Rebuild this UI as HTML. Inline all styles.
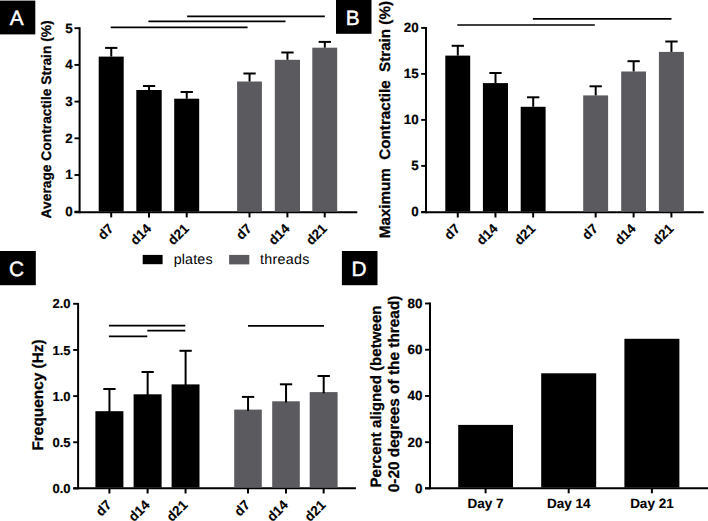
<!DOCTYPE html>
<html><head><meta charset="utf-8"><style>
html,body{margin:0;padding:0;background:#fff;}
svg{display:block;font-family:"Liberation Sans",sans-serif;text-rendering:geometricPrecision;}
</style></head><body>
<svg width="708" height="521" viewBox="0 0 708 521">
<rect x="0" y="0" width="708" height="521" fill="#fff"/>
<rect x="0.00" y="0.60" width="35.30" height="33.80" fill="#000"/>
<text x="16.60" y="25.20" font-size="20.8" font-weight="normal" text-anchor="middle" fill="#fff" stroke="#fff" stroke-width="0.45">A</text>
<line x1="79.60" y1="27.30" x2="79.60" y2="213.20" stroke="#000" stroke-width="2"/>
<line x1="74.50" y1="28.20" x2="79.60" y2="28.20" stroke="#000" stroke-width="1.9"/>
<text x="72.60" y="32.60" font-size="13.4" font-weight="bold" text-anchor="end" fill="#000" stroke="#000" stroke-width="0.2">5</text>
<line x1="74.50" y1="64.90" x2="79.60" y2="64.90" stroke="#000" stroke-width="1.9"/>
<text x="72.60" y="69.30" font-size="13.4" font-weight="bold" text-anchor="end" fill="#000" stroke="#000" stroke-width="0.2">4</text>
<line x1="74.50" y1="101.60" x2="79.60" y2="101.60" stroke="#000" stroke-width="1.9"/>
<text x="72.60" y="106.00" font-size="13.4" font-weight="bold" text-anchor="end" fill="#000" stroke="#000" stroke-width="0.2">3</text>
<line x1="74.50" y1="138.30" x2="79.60" y2="138.30" stroke="#000" stroke-width="1.9"/>
<text x="72.60" y="142.70" font-size="13.4" font-weight="bold" text-anchor="end" fill="#000" stroke="#000" stroke-width="0.2">2</text>
<line x1="74.50" y1="175.00" x2="79.60" y2="175.00" stroke="#000" stroke-width="1.9"/>
<text x="72.60" y="179.40" font-size="13.4" font-weight="bold" text-anchor="end" fill="#000" stroke="#000" stroke-width="0.2">1</text>
<line x1="74.50" y1="211.70" x2="79.60" y2="211.70" stroke="#000" stroke-width="1.9"/>
<text x="72.60" y="216.10" font-size="13.4" font-weight="bold" text-anchor="end" fill="#000" stroke="#000" stroke-width="0.2">0</text>
<line x1="74.50" y1="212.20" x2="357.30" y2="212.20" stroke="#000" stroke-width="2.0"/>
<rect x="98.70" y="56.60" width="25.00" height="154.90" fill="#000"/>
<line x1="111.25" y1="47.90" x2="111.25" y2="56.60" stroke="#000" stroke-width="2.0"/>
<line x1="105.10" y1="47.90" x2="117.40" y2="47.90" stroke="#000" stroke-width="2.0"/>
<rect x="136.30" y="90.00" width="25.40" height="121.50" fill="#000"/>
<line x1="149.05" y1="86.00" x2="149.05" y2="90.00" stroke="#000" stroke-width="2.0"/>
<line x1="142.90" y1="86.00" x2="155.20" y2="86.00" stroke="#000" stroke-width="2.0"/>
<rect x="174.20" y="98.70" width="25.00" height="112.80" fill="#000"/>
<line x1="186.75" y1="92.00" x2="186.75" y2="98.70" stroke="#000" stroke-width="2.0"/>
<line x1="180.60" y1="92.00" x2="192.90" y2="92.00" stroke="#000" stroke-width="2.0"/>
<rect x="237.10" y="81.50" width="24.80" height="130.00" fill="#5b5a5f"/>
<line x1="249.55" y1="73.50" x2="249.55" y2="81.50" stroke="#000" stroke-width="2.0"/>
<line x1="243.40" y1="73.50" x2="255.70" y2="73.50" stroke="#000" stroke-width="2.0"/>
<rect x="274.80" y="59.80" width="25.20" height="151.70" fill="#5b5a5f"/>
<line x1="287.45" y1="52.50" x2="287.45" y2="59.80" stroke="#000" stroke-width="2.0"/>
<line x1="281.30" y1="52.50" x2="293.60" y2="52.50" stroke="#000" stroke-width="2.0"/>
<rect x="312.30" y="47.70" width="24.90" height="163.80" fill="#5b5a5f"/>
<line x1="324.80" y1="41.90" x2="324.80" y2="47.70" stroke="#000" stroke-width="2.0"/>
<line x1="318.65" y1="41.90" x2="330.95" y2="41.90" stroke="#000" stroke-width="2.0"/>
<line x1="111.20" y1="212.20" x2="111.20" y2="217.40" stroke="#000" stroke-width="2"/>
<line x1="149.00" y1="212.20" x2="149.00" y2="217.40" stroke="#000" stroke-width="2"/>
<line x1="186.70" y1="212.20" x2="186.70" y2="217.40" stroke="#000" stroke-width="2"/>
<line x1="249.50" y1="212.20" x2="249.50" y2="217.40" stroke="#000" stroke-width="2"/>
<line x1="287.40" y1="212.20" x2="287.40" y2="217.40" stroke="#000" stroke-width="2"/>
<line x1="324.75" y1="212.20" x2="324.75" y2="217.40" stroke="#000" stroke-width="2"/>
<text x="114.30" y="229.40" font-size="13.5" font-weight="bold" text-anchor="end" fill="#000" stroke="#000" stroke-width="0.15" transform="rotate(-45 114.30 229.40)">d7</text>
<text x="152.10" y="229.40" font-size="13.5" font-weight="bold" text-anchor="end" fill="#000" stroke="#000" stroke-width="0.15" transform="rotate(-45 152.10 229.40)">d14</text>
<text x="189.80" y="229.40" font-size="13.5" font-weight="bold" text-anchor="end" fill="#000" stroke="#000" stroke-width="0.15" transform="rotate(-45 189.80 229.40)">d21</text>
<text x="252.60" y="229.40" font-size="13.5" font-weight="bold" text-anchor="end" fill="#000" stroke="#000" stroke-width="0.15" transform="rotate(-45 252.60 229.40)">d7</text>
<text x="290.50" y="229.40" font-size="13.5" font-weight="bold" text-anchor="end" fill="#000" stroke="#000" stroke-width="0.15" transform="rotate(-45 290.50 229.40)">d14</text>
<text x="327.85" y="229.40" font-size="13.5" font-weight="bold" text-anchor="end" fill="#000" stroke="#000" stroke-width="0.15" transform="rotate(-45 327.85 229.40)">d21</text>
<line x1="110.70" y1="27.30" x2="247.60" y2="27.30" stroke="#000" stroke-width="1.7"/>
<line x1="148.40" y1="21.40" x2="285.50" y2="21.40" stroke="#000" stroke-width="1.7"/>
<line x1="187.10" y1="16.30" x2="324.80" y2="16.30" stroke="#000" stroke-width="1.7"/>
<text x="51.30" y="119.40" font-size="13.8" font-weight="bold" text-anchor="middle" fill="#000" stroke="#000" stroke-width="0.25" transform="rotate(-90 51.30 119.40)">Average Contractile Strain (%)</text>
<rect x="336.00" y="0.00" width="35.50" height="33.80" fill="#000"/>
<text x="352.80" y="24.70" font-size="20.8" font-weight="normal" text-anchor="middle" fill="#fff" stroke="#fff" stroke-width="0.45">B</text>
<line x1="426.00" y1="27.00" x2="426.00" y2="213.20" stroke="#000" stroke-width="2"/>
<line x1="421.20" y1="27.90" x2="426.00" y2="27.90" stroke="#000" stroke-width="1.9"/>
<text x="418.60" y="32.30" font-size="13.4" font-weight="bold" text-anchor="end" fill="#000" stroke="#000" stroke-width="0.2">20</text>
<line x1="421.20" y1="73.90" x2="426.00" y2="73.90" stroke="#000" stroke-width="1.9"/>
<text x="418.60" y="78.30" font-size="13.4" font-weight="bold" text-anchor="end" fill="#000" stroke="#000" stroke-width="0.2">15</text>
<line x1="421.20" y1="119.90" x2="426.00" y2="119.90" stroke="#000" stroke-width="1.9"/>
<text x="418.60" y="124.30" font-size="13.4" font-weight="bold" text-anchor="end" fill="#000" stroke="#000" stroke-width="0.2">10</text>
<line x1="421.20" y1="165.90" x2="426.00" y2="165.90" stroke="#000" stroke-width="1.9"/>
<text x="418.60" y="170.30" font-size="13.4" font-weight="bold" text-anchor="end" fill="#000" stroke="#000" stroke-width="0.2">5</text>
<line x1="421.20" y1="211.90" x2="426.00" y2="211.90" stroke="#000" stroke-width="1.9"/>
<text x="418.60" y="216.30" font-size="13.4" font-weight="bold" text-anchor="end" fill="#000" stroke="#000" stroke-width="0.2">0</text>
<line x1="421.20" y1="212.30" x2="703.70" y2="212.30" stroke="#000" stroke-width="2.0"/>
<rect x="445.30" y="55.60" width="24.90" height="155.90" fill="#000"/>
<line x1="457.80" y1="45.80" x2="457.80" y2="55.60" stroke="#000" stroke-width="2.0"/>
<line x1="451.65" y1="45.80" x2="463.95" y2="45.80" stroke="#000" stroke-width="2.0"/>
<rect x="482.90" y="83.10" width="25.10" height="128.40" fill="#000"/>
<line x1="495.50" y1="73.00" x2="495.50" y2="83.10" stroke="#000" stroke-width="2.0"/>
<line x1="489.35" y1="73.00" x2="501.65" y2="73.00" stroke="#000" stroke-width="2.0"/>
<rect x="520.70" y="106.80" width="24.90" height="104.70" fill="#000"/>
<line x1="533.20" y1="97.30" x2="533.20" y2="106.80" stroke="#000" stroke-width="2.0"/>
<line x1="527.05" y1="97.30" x2="539.35" y2="97.30" stroke="#000" stroke-width="2.0"/>
<rect x="583.20" y="95.40" width="24.90" height="116.10" fill="#5b5a5f"/>
<line x1="595.70" y1="86.30" x2="595.70" y2="95.40" stroke="#000" stroke-width="2.0"/>
<line x1="589.55" y1="86.30" x2="601.85" y2="86.30" stroke="#000" stroke-width="2.0"/>
<rect x="621.20" y="71.50" width="24.80" height="140.00" fill="#5b5a5f"/>
<line x1="633.65" y1="61.20" x2="633.65" y2="71.50" stroke="#000" stroke-width="2.0"/>
<line x1="627.50" y1="61.20" x2="639.80" y2="61.20" stroke="#000" stroke-width="2.0"/>
<rect x="658.90" y="51.90" width="25.00" height="159.60" fill="#5b5a5f"/>
<line x1="671.45" y1="41.50" x2="671.45" y2="51.90" stroke="#000" stroke-width="2.0"/>
<line x1="665.30" y1="41.50" x2="677.60" y2="41.50" stroke="#000" stroke-width="2.0"/>
<line x1="457.75" y1="212.30" x2="457.75" y2="217.50" stroke="#000" stroke-width="2"/>
<text x="460.85" y="229.40" font-size="13.5" font-weight="bold" text-anchor="end" fill="#000" stroke="#000" stroke-width="0.15" transform="rotate(-45 460.85 229.40)">d7</text>
<line x1="495.45" y1="212.30" x2="495.45" y2="217.50" stroke="#000" stroke-width="2"/>
<text x="498.55" y="229.40" font-size="13.5" font-weight="bold" text-anchor="end" fill="#000" stroke="#000" stroke-width="0.15" transform="rotate(-45 498.55 229.40)">d14</text>
<line x1="533.15" y1="212.30" x2="533.15" y2="217.50" stroke="#000" stroke-width="2"/>
<text x="536.25" y="229.40" font-size="13.5" font-weight="bold" text-anchor="end" fill="#000" stroke="#000" stroke-width="0.15" transform="rotate(-45 536.25 229.40)">d21</text>
<line x1="595.65" y1="212.30" x2="595.65" y2="217.50" stroke="#000" stroke-width="2"/>
<text x="598.75" y="229.40" font-size="13.5" font-weight="bold" text-anchor="end" fill="#000" stroke="#000" stroke-width="0.15" transform="rotate(-45 598.75 229.40)">d7</text>
<line x1="633.60" y1="212.30" x2="633.60" y2="217.50" stroke="#000" stroke-width="2"/>
<text x="636.70" y="229.40" font-size="13.5" font-weight="bold" text-anchor="end" fill="#000" stroke="#000" stroke-width="0.15" transform="rotate(-45 636.70 229.40)">d14</text>
<line x1="671.40" y1="212.30" x2="671.40" y2="217.50" stroke="#000" stroke-width="2"/>
<text x="674.50" y="229.40" font-size="13.5" font-weight="bold" text-anchor="end" fill="#000" stroke="#000" stroke-width="0.15" transform="rotate(-45 674.50 229.40)">d21</text>
<line x1="457.30" y1="25.00" x2="594.80" y2="25.00" stroke="#000" stroke-width="1.7"/>
<line x1="532.90" y1="18.90" x2="671.50" y2="18.90" stroke="#000" stroke-width="1.7"/>
<text x="390.50" y="119.60" font-size="15.2" font-weight="bold" text-anchor="middle" fill="#000" stroke="#000" stroke-width="0.25" transform="rotate(-90 390.50 119.60)">Maximum&#160; Contractile&#160; Strain (%)</text>
<rect x="142.70" y="254.90" width="19.90" height="9.30" fill="#000"/>
<text x="173.70" y="264.00" font-size="14.3" font-weight="normal" text-anchor="start" fill="#000" letter-spacing="0.15">plates</text>
<rect x="229.10" y="254.90" width="20.20" height="9.50" fill="#5b5a5f"/>
<text x="260.10" y="264.00" font-size="14.3" font-weight="normal" text-anchor="start" fill="#000" letter-spacing="0.28">threads</text>
<rect x="0.00" y="251.00" width="35.80" height="34.20" fill="#000"/>
<text x="16.60" y="276.00" font-size="20.8" font-weight="normal" text-anchor="middle" fill="#fff" stroke="#fff" stroke-width="0.45">C</text>
<line x1="78.10" y1="302.90" x2="78.10" y2="489.30" stroke="#000" stroke-width="2"/>
<line x1="73.20" y1="303.80" x2="78.10" y2="303.80" stroke="#000" stroke-width="1.9"/>
<text x="70.60" y="308.40" font-size="13.0" font-weight="bold" text-anchor="end" fill="#000" stroke="#000" stroke-width="0.2">2.0</text>
<line x1="73.20" y1="349.95" x2="78.10" y2="349.95" stroke="#000" stroke-width="1.9"/>
<text x="70.60" y="354.55" font-size="13.0" font-weight="bold" text-anchor="end" fill="#000" stroke="#000" stroke-width="0.2">1.5</text>
<line x1="73.20" y1="396.10" x2="78.10" y2="396.10" stroke="#000" stroke-width="1.9"/>
<text x="70.60" y="400.70" font-size="13.0" font-weight="bold" text-anchor="end" fill="#000" stroke="#000" stroke-width="0.2">1.0</text>
<line x1="73.20" y1="442.25" x2="78.10" y2="442.25" stroke="#000" stroke-width="1.9"/>
<text x="70.60" y="446.85" font-size="13.0" font-weight="bold" text-anchor="end" fill="#000" stroke="#000" stroke-width="0.2">0.5</text>
<line x1="73.20" y1="488.40" x2="78.10" y2="488.40" stroke="#000" stroke-width="1.9"/>
<text x="70.60" y="493.00" font-size="13.0" font-weight="bold" text-anchor="end" fill="#000" stroke="#000" stroke-width="0.2">0.0</text>
<line x1="73.20" y1="488.30" x2="355.90" y2="488.30" stroke="#000" stroke-width="2.0"/>
<rect x="95.40" y="411.20" width="28.00" height="76.30" fill="#000"/>
<line x1="109.45" y1="389.00" x2="109.45" y2="412.40" stroke="#000" stroke-width="2.0"/>
<line x1="103.30" y1="389.00" x2="115.60" y2="389.00" stroke="#000" stroke-width="2.0"/>
<rect x="133.60" y="394.30" width="28.00" height="93.20" fill="#000"/>
<line x1="147.65" y1="372.00" x2="147.65" y2="395.50" stroke="#000" stroke-width="2.0"/>
<line x1="141.50" y1="372.00" x2="153.80" y2="372.00" stroke="#000" stroke-width="2.0"/>
<rect x="171.60" y="384.40" width="27.90" height="103.10" fill="#000"/>
<line x1="185.60" y1="350.80" x2="185.60" y2="385.60" stroke="#000" stroke-width="2.0"/>
<line x1="179.45" y1="350.80" x2="191.75" y2="350.80" stroke="#000" stroke-width="2.0"/>
<rect x="234.20" y="409.60" width="27.60" height="77.90" fill="#5b5a5f"/>
<line x1="248.05" y1="396.90" x2="248.05" y2="410.80" stroke="#000" stroke-width="2.0"/>
<line x1="241.90" y1="396.90" x2="254.20" y2="396.90" stroke="#000" stroke-width="2.0"/>
<rect x="272.20" y="401.30" width="27.60" height="86.20" fill="#5b5a5f"/>
<line x1="286.05" y1="384.30" x2="286.05" y2="402.50" stroke="#000" stroke-width="2.0"/>
<line x1="279.90" y1="384.30" x2="292.20" y2="384.30" stroke="#000" stroke-width="2.0"/>
<rect x="309.70" y="392.10" width="27.90" height="95.40" fill="#5b5a5f"/>
<line x1="323.70" y1="376.00" x2="323.70" y2="393.30" stroke="#000" stroke-width="2.0"/>
<line x1="317.55" y1="376.00" x2="329.85" y2="376.00" stroke="#000" stroke-width="2.0"/>
<line x1="109.40" y1="488.30" x2="109.40" y2="493.50" stroke="#000" stroke-width="2"/>
<text x="112.30" y="505.80" font-size="13.5" font-weight="bold" text-anchor="end" fill="#000" stroke="#000" stroke-width="0.15" transform="rotate(-45 112.30 505.80)">d7</text>
<line x1="147.60" y1="488.30" x2="147.60" y2="493.50" stroke="#000" stroke-width="2"/>
<text x="150.50" y="505.80" font-size="13.5" font-weight="bold" text-anchor="end" fill="#000" stroke="#000" stroke-width="0.15" transform="rotate(-45 150.50 505.80)">d14</text>
<line x1="185.55" y1="488.30" x2="185.55" y2="493.50" stroke="#000" stroke-width="2"/>
<text x="188.45" y="505.80" font-size="13.5" font-weight="bold" text-anchor="end" fill="#000" stroke="#000" stroke-width="0.15" transform="rotate(-45 188.45 505.80)">d21</text>
<line x1="248.00" y1="488.30" x2="248.00" y2="493.50" stroke="#000" stroke-width="2"/>
<text x="250.90" y="505.80" font-size="13.5" font-weight="bold" text-anchor="end" fill="#000" stroke="#000" stroke-width="0.15" transform="rotate(-45 250.90 505.80)">d7</text>
<line x1="286.00" y1="488.30" x2="286.00" y2="493.50" stroke="#000" stroke-width="2"/>
<text x="288.90" y="505.80" font-size="13.5" font-weight="bold" text-anchor="end" fill="#000" stroke="#000" stroke-width="0.15" transform="rotate(-45 288.90 505.80)">d14</text>
<line x1="323.65" y1="488.30" x2="323.65" y2="493.50" stroke="#000" stroke-width="2"/>
<text x="326.55" y="505.80" font-size="13.5" font-weight="bold" text-anchor="end" fill="#000" stroke="#000" stroke-width="0.15" transform="rotate(-45 326.55 505.80)">d21</text>
<line x1="108.90" y1="325.60" x2="185.30" y2="325.60" stroke="#000" stroke-width="1.7"/>
<line x1="147.30" y1="330.70" x2="185.30" y2="330.70" stroke="#000" stroke-width="1.7"/>
<line x1="108.90" y1="336.30" x2="147.30" y2="336.30" stroke="#000" stroke-width="1.7"/>
<line x1="248.00" y1="325.80" x2="324.00" y2="325.80" stroke="#000" stroke-width="1.7"/>
<text x="43.40" y="395.00" font-size="15.4" font-weight="bold" text-anchor="middle" fill="#000" stroke="#000" stroke-width="0.25" transform="rotate(-90 43.40 395.00)">Frequency (Hz)</text>
<rect x="341.90" y="251.00" width="35.60" height="34.20" fill="#000"/>
<text x="359.00" y="275.90" font-size="20.8" font-weight="normal" text-anchor="middle" fill="#fff" stroke="#fff" stroke-width="0.45">D</text>
<line x1="430.00" y1="302.60" x2="430.00" y2="489.30" stroke="#000" stroke-width="2"/>
<line x1="425.10" y1="303.50" x2="430.00" y2="303.50" stroke="#000" stroke-width="1.9"/>
<text x="422.40" y="307.90" font-size="13.4" font-weight="bold" text-anchor="end" fill="#000" stroke="#000" stroke-width="0.2">80</text>
<line x1="425.10" y1="349.73" x2="430.00" y2="349.73" stroke="#000" stroke-width="1.9"/>
<text x="422.40" y="354.12" font-size="13.4" font-weight="bold" text-anchor="end" fill="#000" stroke="#000" stroke-width="0.2">60</text>
<line x1="425.10" y1="395.95" x2="430.00" y2="395.95" stroke="#000" stroke-width="1.9"/>
<text x="422.40" y="400.35" font-size="13.4" font-weight="bold" text-anchor="end" fill="#000" stroke="#000" stroke-width="0.2">40</text>
<line x1="425.10" y1="442.18" x2="430.00" y2="442.18" stroke="#000" stroke-width="1.9"/>
<text x="422.40" y="446.57" font-size="13.4" font-weight="bold" text-anchor="end" fill="#000" stroke="#000" stroke-width="0.2">20</text>
<line x1="425.10" y1="488.40" x2="430.00" y2="488.40" stroke="#000" stroke-width="1.9"/>
<text x="422.40" y="492.80" font-size="13.4" font-weight="bold" text-anchor="end" fill="#000" stroke="#000" stroke-width="0.2">0</text>
<line x1="425.10" y1="488.30" x2="708.00" y2="488.30" stroke="#000" stroke-width="2.0"/>
<rect x="458.20" y="424.90" width="54.80" height="62.60" fill="#000"/>
<line x1="485.60" y1="488.30" x2="485.60" y2="493.30" stroke="#000" stroke-width="2"/>
<text x="485.60" y="508.00" font-size="13.5" font-weight="bold" text-anchor="middle" fill="#000" stroke="#000" stroke-width="0.1">Day 7</text>
<rect x="541.20" y="373.30" width="55.00" height="114.20" fill="#000"/>
<line x1="568.70" y1="488.30" x2="568.70" y2="493.30" stroke="#000" stroke-width="2"/>
<text x="568.70" y="508.00" font-size="13.5" font-weight="bold" text-anchor="middle" fill="#000" stroke="#000" stroke-width="0.1">Day 14</text>
<rect x="624.40" y="338.80" width="55.00" height="148.70" fill="#000"/>
<line x1="651.90" y1="488.30" x2="651.90" y2="493.30" stroke="#000" stroke-width="2"/>
<text x="651.90" y="508.00" font-size="13.5" font-weight="bold" text-anchor="middle" fill="#000" stroke="#000" stroke-width="0.1">Day 21</text>
<text x="381.30" y="396.50" font-size="15.1" font-weight="bold" text-anchor="middle" fill="#000" stroke="#000" stroke-width="0.25" transform="rotate(-90 381.30 396.50)">Percent aligned (between</text>
<text x="399.30" y="393.90" font-size="15.4" font-weight="bold" text-anchor="middle" fill="#000" stroke="#000" stroke-width="0.25" transform="rotate(-90 399.30 393.90)">0-20 degrees of the thread)</text>
</svg>
</body></html>
